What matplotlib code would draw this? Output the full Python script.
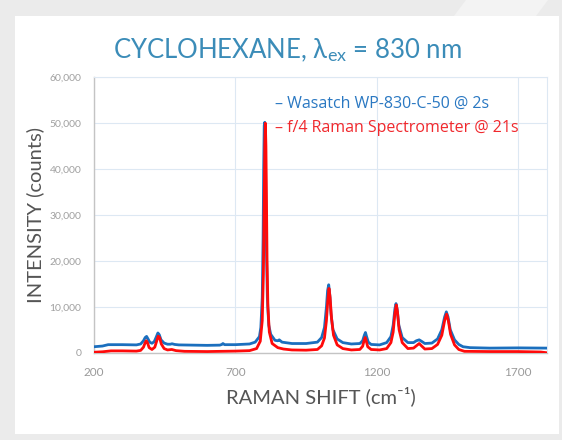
import matplotlib
matplotlib.use("Agg")
import matplotlib.pyplot as plt
from matplotlib.patches import Rectangle, Polygon

plt.rcParams['font.family'] = ['Lato', 'DejaVu Sans']
plt.rcParams['mathtext.fontset'] = 'custom'
plt.rcParams['mathtext.rm'] = 'Lato'
plt.rcParams['mathtext.it'] = 'Lato:italic'
plt.rcParams['mathtext.bf'] = 'Lato:bold'

# Wasatch WP-830-C-50 @ 2s
wasatch_shift = [200, 230, 250, 300, 350, 365, 375, 381, 386, 391, 397, 405, 413, 420, 426, 431,
                 437, 448, 460, 470, 476, 485, 500, 600, 645, 652, 656, 662, 700, 750, 770, 785,
                 790, 795, 798, 800, 802, 804, 806, 808, 810, 813, 818, 825, 840, 850, 855, 865,
                 900, 950, 990, 1005, 1015, 1022, 1026, 1030, 1034, 1038, 1045, 1060, 1080, 1110,
                 1140, 1150, 1156, 1160, 1164, 1170, 1180, 1210, 1235, 1250, 1258, 1264, 1268,
                 1272, 1278, 1290, 1310, 1330, 1340, 1350, 1358, 1370, 1395, 1415, 1430, 1440,
                 1446, 1452, 1460, 1475, 1490, 1505, 1530, 1600, 1700, 1800]
wasatch_counts = [1300, 1450, 1750, 1750, 1700, 1900, 2600, 3300, 3550, 3000, 2300, 2050, 2400, 3400, 4300, 3900,
                  2800, 2100, 1850, 1850, 1950, 1800, 1700, 1600, 1650, 1800, 2000, 1750, 1750, 1900, 2300, 3500,
                  5500, 12000, 25000, 40000, 49500, 50200, 45000, 33000, 22000, 12000, 6000, 4000, 2700, 2600, 2800, 2300,
                  2000, 2000, 2300, 3300, 5500, 10000, 13500, 14800, 12500, 8500, 5000, 3000, 2200, 1900,
                  2000, 2600, 3800, 4400, 3500, 2300, 1800, 1700, 2200, 3500, 6000, 9500, 10700,
                  9500, 6000, 3300, 2200, 2200, 2600, 2800, 2500, 2000, 2100, 3000, 5000, 7800,
                  8900, 7800, 5000, 2800, 1800, 1300, 1100, 1000, 1050, 1000]

# f/4 Raman Spectrometer @ 21s
f4_shift = [200, 230, 260, 300, 350, 365, 375, 381, 385, 389, 395, 405, 415, 422, 427, 432,
            438, 448, 460, 475, 490, 520, 600, 650, 700, 750, 775, 788, 795, 799, 802, 804,
            806, 808, 810, 812, 815, 820, 830, 850, 870, 900, 950, 990, 1005, 1015, 1022, 1027,
            1031, 1035, 1040, 1047, 1060, 1080, 1110, 1140, 1150, 1155, 1159, 1163, 1168, 1180,
            1210, 1235, 1250, 1258, 1264, 1269, 1273, 1279, 1290, 1310, 1330, 1342, 1350, 1358,
            1370, 1395, 1415, 1430, 1440, 1447, 1453, 1461, 1475, 1490, 1510, 1600, 1700, 1780, 1800]
f4_counts = [100, 200, 400, 400, 350, 500, 1200, 2200, 2600, 2200, 1100, 700, 1200, 2600, 3600, 3300,
             1900, 900, 600, 700, 450, 300, 250, 300, 350, 450, 900, 2500, 7000, 17000, 33000, 45000,
             50000, 45000, 33000, 20000, 10000, 4500, 2000, 1100, 800, 600, 550, 700, 1500, 3200, 7000, 11500,
             14000, 12000, 7500, 3800, 1700, 900, 600, 700, 1400, 2600, 3300, 2500, 1300, 700,
             600, 900, 2200, 4500, 8500, 10400, 9000, 5000, 2200, 900, 1000, 1600, 2000, 1500,
             800, 900, 1800, 3800, 7000, 8400, 7000, 4000, 1700, 700, 300, 250, 250, 150, 0]

x_ticks = [200, 700, 1200, 1700]
y_ticks = [0, 10000, 20000, 30000, 40000, 50000, 60000]

W, H = 562, 440
fig = plt.figure(figsize=(W / 100, H / 100), dpi=100, facecolor='#ebebeb')

# decorative stripe and white card
fig.patches.append(Polygon([(466 / W, 1), (548 / W, 1), (536 / W, 1 - 16 / H), (454 / W, 1 - 16 / H)],
                           closed=True, transform=fig.transFigure, facecolor='#f3f3f3',
                           edgecolor='none', zorder=-2))
fig.patches.append(Rectangle((15 / W, 6 / H), 544 / W, 418 / H, transform=fig.transFigure,
                             facecolor='white', edgecolor='none', zorder=-1))

ax = fig.add_axes([94 / W, 87.3 / H, 453 / W, 275.4 / H])
ax.set_facecolor('none')
ax.set_zorder(2)

blue = '#1b6fbe'
red = '#ff0a0a'
ax.plot(wasatch_shift, wasatch_counts, color=blue, lw=2.0, zorder=3, solid_joinstyle='round')
ax.plot(f4_shift, f4_counts, color=red, lw=2.0, zorder=4, solid_joinstyle='round')

ax.set_xlim(200, 1802)
ax.set_ylim(0, 60000)
ax.set_xticks(x_ticks)
ax.set_yticks(y_ticks)
ax.set_yticklabels([f"{v:,}" for v in y_ticks])
ax.tick_params(axis='x', length=0, pad=10, labelsize=8.5, labelcolor='#9a9a9a')
ax.tick_params(axis='y', length=0, pad=9, labelsize=7.5, labelcolor='#a0a0a0')
ax.grid(True, color='#dde8f3', lw=0.8, zorder=0)
ax.set_axisbelow(True)
for s in ['top', 'right']:
    ax.spines[s].set_color('#dde8f3')
    ax.spines[s].set_linewidth(0.8)
for s in ['left', 'bottom']:
    ax.spines[s].set_color('#c4c4c4')
    ax.spines[s].set_linewidth(1.0)

ax.set_ylabel("INTENSITY (counts)", fontsize=14.5, color='#555555', labelpad=4)
ax.set_xlabel("RAMAN SHIFT (cm⁻¹)", fontsize=14.5, color='#555555', labelpad=6)

fig.text(287 / W, 1 - 50 / H, r"CYCLOHEXANE, λ$_{\rm ex}$ = 830 nm", ha='center', va='center',
         fontsize=18.5, color='#3b8cb8')

fig.text(275 / W, 1 - 104 / H, "– Wasatch WP-830-C-50 @ 2s", ha='left', va='center',
         fontsize=11.5, color='#2a78c2', family=['Open Sans', 'DejaVu Sans'], zorder=5)
fig.text(275 / W, 1 - 128 / H, "– f/4 Raman Spectrometer @ 21s", ha='left', va='center',
         fontsize=11.5, color='#f0282d', family=['Open Sans', 'DejaVu Sans'], zorder=5)

fig.savefig("out.png", dpi=100, facecolor=fig.get_facecolor())
